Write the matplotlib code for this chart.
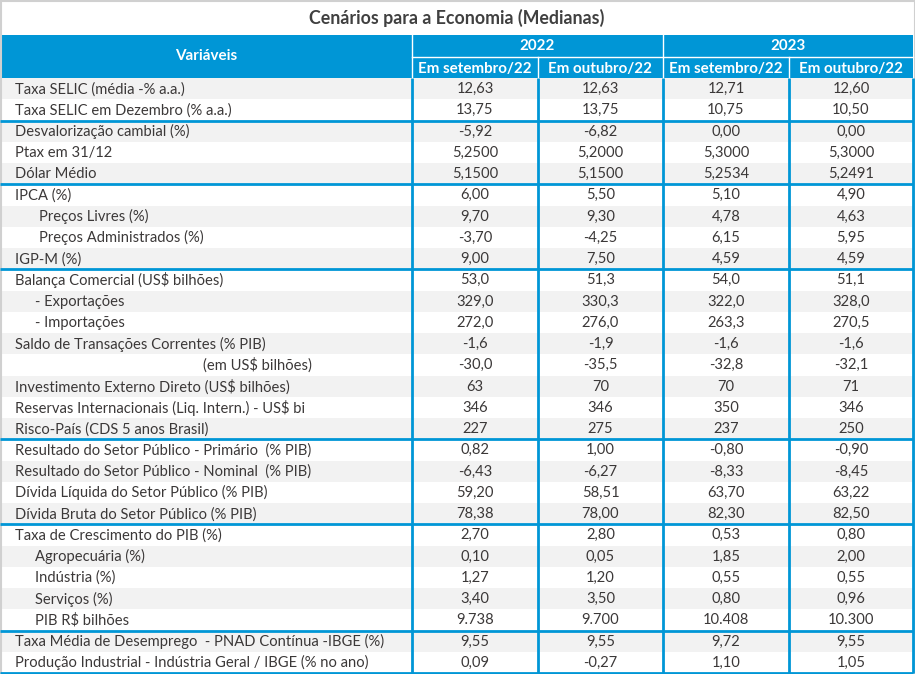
import matplotlib.pyplot as plt
from matplotlib.patches import Rectangle

plt.rcParams['font.family'] = ['Lato', 'DejaVu Sans']

title = 'Cenários para a Economia (Medianas)'
years = ['2022', '2023']
subheads = ['Em setembro/22', 'Em outubro/22', 'Em setembro/22', 'Em outubro/22']

labels = [
    'Taxa SELIC (média -% a.a.)', 'Taxa SELIC em Dezembro (% a.a.)',
    'Desvalorização cambial (%)', 'Ptax em 31/12', 'Dólar Médio',
    'IPCA (%)', 'Preços Livres (%)', 'Preços Administrados (%)', 'IGP-M (%)',
    'Balança Comercial (US$ bilhões)', '- Exportações', '- Importações',
    'Saldo de Transações Correntes (% PIB)', '(em US$ bilhões)',
    'Investimento Externo Direto (US$ bilhões)',
    'Reservas Internacionais (Liq. Intern.) - US$ bi',
    'Risco-País (CDS 5 anos Brasil)',
    'Resultado do Setor Público - Primário  (% PIB)',
    'Resultado do Setor Público - Nominal  (% PIB)',
    'Dívida Líquida do Setor Público (% PIB)',
    'Dívida Bruta do Setor Público (% PIB)',
    'Taxa de Crescimento do PIB (%)', 'Agropecuária (%)', 'Indústria (%)',
    'Serviços (%)', 'PIB R$ bilhões',
    'Taxa Média de Desemprego  - PNAD Contínua -IBGE (%)',
    'Produção Industrial - Indústria Geral / IBGE (% no ano)',
]
indent = [0, 0, 0, 0, 0, 0, 24, 24, 0, 0, 20, 20, 0, 188, 0, 0, 0,
          0, 0, 0, 0, 0, 20, 20, 20, 20, 0, 0]

set22 = ['12,63', '13,75', '-5,92', '5,2500', '5,1500', '6,00', '9,70', '-3,70',
         '9,00', '53,0', '329,0', '272,0', '-1,6', '-30,0', '63', '346', '227',
         '0,82', '-6,43', '59,20', '78,38', '2,70', '0,10', '1,27', '3,40',
         '9.738', '9,55', '0,09']
out22 = ['12,63', '13,75', '-6,82', '5,2000', '5,1500', '5,50', '9,30', '-4,25',
         '7,50', '51,3', '330,3', '276,0', '-1,9', '-35,5', '70', '346', '275',
         '1,00', '-6,27', '58,51', '78,00', '2,80', '0,05', '1,20', '3,50',
         '9.700', '9,55', '-0,27']
set23 = ['12,71', '10,75', '0,00', '5,3000', '5,2534', '5,10', '4,78', '6,15',
         '4,59', '54,0', '322,0', '263,3', '-1,6', '-32,8', '70', '350', '237',
         '-0,80', '-8,33', '63,70', '82,30', '0,53', '1,85', '0,55', '0,80',
         '10.408', '9,72', '1,10']
out23 = ['12,60', '10,50', '0,00', '5,3000', '5,2491', '4,90', '4,63', '5,95',
         '4,59', '51,1', '328,0', '270,5', '-1,6', '-32,1', '71', '346', '250',
         '-0,90', '-8,45', '63,22', '82,50', '0,80', '2,00', '0,55', '0,96',
         '10.300', '9,55', '1,05']
columns = [set22, out22, set23, out23]
group_ends = [1, 4, 8, 16, 20, 25, 27]

blue = '#0096D6'
grey = '#F2F2F2'
txt = '#3B3838'

fig = plt.figure(figsize=(9.15, 6.74), dpi=100)
ax = fig.add_axes([0, 0, 1, 1])
ax.set_xlim(0, 915)
ax.set_ylim(674, 0)
ax.axis('off')

xs = [0, 412, 538, 663, 789, 913]
h_top, h_mid, y0 = 35, 57, 78
rh = (673 - y0) / len(labels)
fs = 10.6
fs_head = 10.9

ax.text(457, 18, title, ha='center', va='center', fontsize=12.8,
        fontweight='bold', color='#404040')

# header
ax.add_patch(Rectangle((0, h_top), 913, y0 - h_top, color=blue, lw=0))
ax.text(206, (h_top + y0) / 2, 'Variáveis', ha='center', va='center',
        fontsize=fs_head, fontweight='bold', color='white')
for i, yr in enumerate(years):
    ax.text((xs[1 + 2 * i] + xs[3 + 2 * i]) / 2, (h_top + h_mid) / 2 + 0.5, yr,
            ha='center', va='center', fontsize=fs_head, fontweight='bold', color='white')
for i, s in enumerate(subheads):
    ax.text((xs[i + 1] + xs[i + 2]) / 2, (h_mid + y0) / 2 + 1, s,
            ha='center', va='center', fontsize=fs_head, fontweight='bold', color='white')
ax.plot([412, 913], [h_mid, h_mid], color='white', lw=1)
for x in [412, 663]:
    ax.plot([x, x], [h_top, y0], color='white', lw=1)
for x in [538, 789]:
    ax.plot([x, x], [h_mid, y0], color='white', lw=1)

# body
for r, lab in enumerate(labels):
    top = y0 + r * rh
    if r % 2 == 0:
        ax.add_patch(Rectangle((0, top), 913, rh, color=grey, lw=0))
    yc = top + rh / 2 + 0.5
    ax.text(15 + indent[r], yc, lab, ha='left', va='center', fontsize=fs, color=txt)
    for c, col in enumerate(columns):
        ax.text((xs[c + 1] + xs[c + 2]) / 2, yc, col[r], ha='center',
                va='center', fontsize=fs, color=txt)

for g in group_ends:
    y = y0 + (g + 1) * rh
    ax.plot([0, 913], [y, y], color=blue, lw=2, solid_capstyle='butt')
for x in xs[1:]:
    ax.plot([x, x], [y0, 673], color=blue, lw=2, solid_capstyle='butt')

ax.add_patch(Rectangle((0.5, 0.5), 914, 673, fill=False, ec='#D0D0D0', lw=1.5))

fig.savefig('out.png', dpi=100)
